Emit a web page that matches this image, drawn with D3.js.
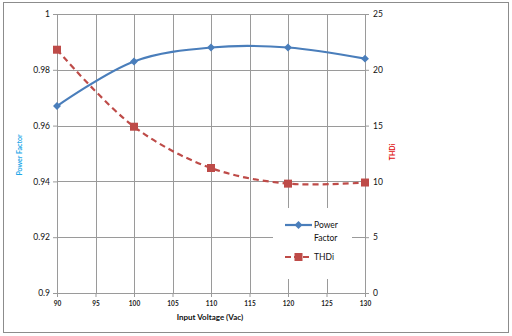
<!DOCTYPE html>
<html><head><meta charset="utf-8">
<script src="https://cdn.jsdelivr.net/npm/d3@7"></script>
<style>body{margin:0;background:#fff}svg{display:block}text{font-family:Lato,"Liberation Sans",sans-serif}</style>
</head><body><svg id="c" width="512" height="336"></svg>
<script>
const voltage = [90, 100, 110, 120, 130];
const powerFactor = [0.967, 0.983, 0.988, 0.988, 0.984];
const thdi = [21.8, 14.9, 11.2, 9.8, 9.9];
const xTicks = [90, 95, 100, 105, 110, 115, 120, 125, 130];
const pfTicks = [0.9, 0.92, 0.94, 0.96, 0.98, 1];
const thdiTicks = [0, 5, 10, 15, 20, 25];

const svg = d3.select("#c");
const L = 57, R = 365, T = 14, B = 293;
const x = d3.scaleLinear().domain([90, 130]).range([L, R]);
const yL = d3.scaleLinear().domain([0.9, 1]).range([B, T]);
const yR = d3.scaleLinear().domain([0, 25]).range([B, T]);
const grid = "#9a9a9a";

svg.append("rect").attr("x", 3.5).attr("y", 2.5).attr("width", 505).attr("height", 330)
  .attr("fill", "#fff").attr("stroke", "#8c8c8c").attr("stroke-width", 1);

// gridlines
const g = svg.append("g");
g.selectAll(".vg").data(xTicks).join("line")
  .attr("x1", d => Math.round(x(d)) + 0.5).attr("x2", d => Math.round(x(d)) + 0.5)
  .attr("y1", T).attr("y2", B).attr("stroke", grid).attr("stroke-width", 1);
g.selectAll(".hg").data(pfTicks).join("line")
  .attr("x1", L).attr("x2", R).attr("y1", d => Math.round(yL(d)) + 0.5).attr("y2", d => Math.round(yL(d)) + 0.5)
  .attr("stroke", grid).attr("stroke-width", 1);

// axes
const ax = d3.axisBottom(x).tickValues(xTicks).tickSize(4).tickFormat(d3.format("d"));
const gx = svg.append("g").attr("transform", `translate(0,${B})`).call(ax);
gx.select(".domain").attr("stroke", grid);
gx.selectAll(".tick line").attr("stroke", grid);
gx.selectAll("text").attr("font-size", 6.5).attr("font-weight", "bold").attr("fill", "#222").attr("dy", "0.9em");

const al = d3.axisLeft(yL).tickValues(pfTicks).tickSize(4).tickFormat(d => d3.format("")(+d.toFixed(2)));
const gl = svg.append("g").attr("transform", `translate(${L},0)`).call(al);
gl.select(".domain").attr("stroke", grid);
gl.selectAll(".tick line").attr("stroke", grid);
gl.selectAll("text").attr("font-size", 8.5).attr("fill", "#111").attr("x", -7);

const ar = d3.axisRight(yR).tickValues(thdiTicks).tickSize(4).tickFormat(d3.format("d"));
const gr = svg.append("g").attr("transform", `translate(${R},0)`).call(ar);
gr.select(".domain").attr("stroke", grid);
gr.selectAll(".tick line").attr("stroke", grid);
gr.selectAll("text").attr("font-size", 8.5).attr("fill", "#111").attr("x", 8);

// titles
svg.append("text").attr("x", 210).attr("y", 320).attr("text-anchor", "middle")
  .attr("font-size", 8).attr("font-weight", "bold").attr("fill", "#111").text("Input Voltage (Vac)");
svg.append("text").attr("transform", "translate(22,155) rotate(-90)").attr("text-anchor", "middle")
  .attr("font-size", 7).attr("font-weight", "bold").attr("fill", "#1fa8e8").text("Power Factor");
svg.append("text").attr("transform", "translate(395,152) rotate(-90)").attr("text-anchor", "middle")
  .attr("font-size", 7).attr("font-weight", "bold").attr("fill", "#e01010").text("THDi");

// series
const blue = "#4a7ebb", red = "#be4b48";
const pfData = voltage.map((v, i) => [v, powerFactor[i]]);
const thData = voltage.map((v, i) => [v, thdi[i]]);
const line1 = d3.line().x(d => x(d[0])).y(d => yL(d[1])).curve(d3.curveCatmullRom.alpha(0.5));
const line2 = d3.line().x(d => x(d[0])).y(d => yR(d[1])).curve(d3.curveCatmullRom.alpha(0.5));

svg.append("path").datum(thData).attr("d", line2).attr("fill", "none").attr("stroke", red)
  .attr("stroke-width", 2.2).attr("stroke-dasharray", "6,4");
svg.append("path").datum(pfData).attr("d", line1).attr("fill", "none").attr("stroke", blue)
  .attr("stroke-width", 2.2);

const diamond = d3.symbol().type(d3.symbolDiamond2).size(40);
const square = d3.symbol().type(d3.symbolSquare).size(64);
svg.selectAll(".pm").data(pfData).join("path")
  .attr("transform", d => `translate(${x(d[0])},${yL(d[1])})`).attr("d", diamond).attr("fill", blue);
svg.selectAll(".tm").data(thData).join("path")
  .attr("transform", d => `translate(${x(d[0])},${yR(d[1])})`).attr("d", square).attr("fill", red);

// legend
const lg = svg.append("g");
lg.append("rect").attr("x", 273).attr("y", 208).attr("width", 79).attr("height", 71).attr("fill", "#fff");
lg.append("line").attr("x1", 285).attr("x2", 312).attr("y1", 225).attr("y2", 225).attr("stroke", blue).attr("stroke-width", 2.2);
lg.append("path").attr("transform", "translate(298.5,225)").attr("d", diamond).attr("fill", blue);
lg.append("text").attr("x", 314).attr("y", 228).attr("font-size", 8.5).attr("fill", "#111").text("Power");
lg.append("text").attr("x", 314).attr("y", 241).attr("font-size", 8.5).attr("fill", "#111").text("Factor");
lg.append("line").attr("x1", 285).attr("x2", 312).attr("y1", 257).attr("y2", 257).attr("stroke", red).attr("stroke-width", 2.2).attr("stroke-dasharray", "6,3");
lg.append("path").attr("transform", "translate(298.5,257)").attr("d", square).attr("fill", red);
lg.append("text").attr("x", 314).attr("y", 260).attr("font-size", 8.5).attr("fill", "#111").text("THDi");
</script></body></html>
